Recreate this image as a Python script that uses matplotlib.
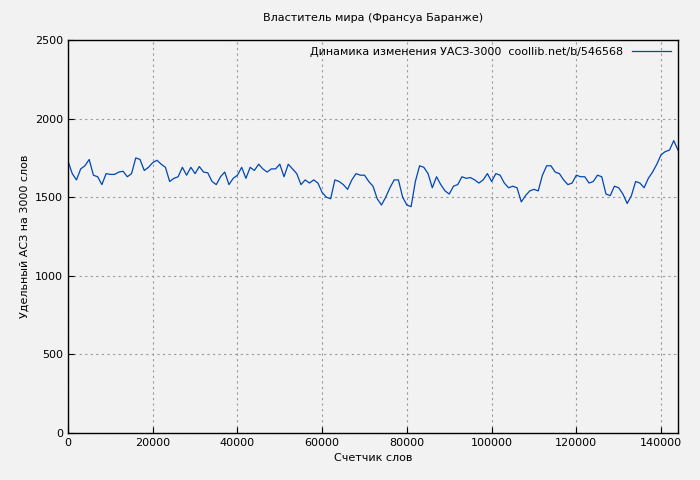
import matplotlib
matplotlib.use("Agg")
import matplotlib.pyplot as plt
import numpy as np

values = [1730,1650,1610,1680,1700,1740,1640,1630,1580,1650,1645,1645,1660,1665,1630,1650,1750,1740,1670,1690,
          1720,1735,1710,1690,1600,1620,1630,1690,1640,1690,1650,1695,1660,1655,1600,1580,1630,1660,1580,1620,
          1640,1690,1620,1690,1670,1710,1680,1660,1680,1680,1710,1630,1710,1680,1650,1580,1610,1590,1610,1590,
          1530,1500,1490,1610,1600,1580,1550,1610,1650,1640,1640,1600,1570,1490,1450,1500,1560,1610,1610,1500,
          1450,1440,1600,1700,1690,1650,1560,1630,1580,1540,1520,1570,1580,1630,1620,1625,1610,1590,1610,1650,
          1600,1650,1640,1590,1560,1570,1560,1470,1510,1540,1550,1540,1640,1700,1700,1660,1650,1610,1580,1590,
          1640,1630,1630,1590,1600,1640,1630,1520,1510,1570,1560,1520,1460,1510,1600,1590,1560,1620,1660,1710,
          1770,1790,1800,1860,1800]
words = np.arange(len(values)) * 1000
xticks = [0,20000,40000,60000,80000,100000,120000,140000]
yticks = [0,500,1000,1500,2000,2500]

bg = "#f2f2f2"
fig = plt.figure(figsize=(7,4.8), dpi=100, facecolor=bg)
ax = fig.add_axes([68/700, 1-433/480, 610/700, 393/480], facecolor=bg)
ax.plot(words, values, color="#0046b4", lw=0.9, label="Динамика изменения УАСЗ-3000  coollib.net/b/546568")
ax.set_xlim(0, 144000)
ax.set_ylim(0, 2500)
ax.set_xticks(xticks)
ax.set_yticks(yticks)
ax.tick_params(direction="in", labelsize=8, length=4, top=False, right=False)
ax.grid(True, color="#999999", linestyle=(0,(2,3)), lw=0.8)
for s in ax.spines.values():
    s.set_linewidth(1)
ax.set_title("Властитель мира (Франсуа Баранже)", fontsize=8, pad=14)
ax.set_xlabel("Счетчик слов", fontsize=8, labelpad=4)
ax.set_ylabel("Удельный АСЗ на 3000 слов", fontsize=8)
leg = ax.legend(loc="upper right", fontsize=8, frameon=False, markerfirst=False, handlelength=3.5,
                borderaxespad=0.2)
fig.savefig("out.png", dpi=100, facecolor=bg)
